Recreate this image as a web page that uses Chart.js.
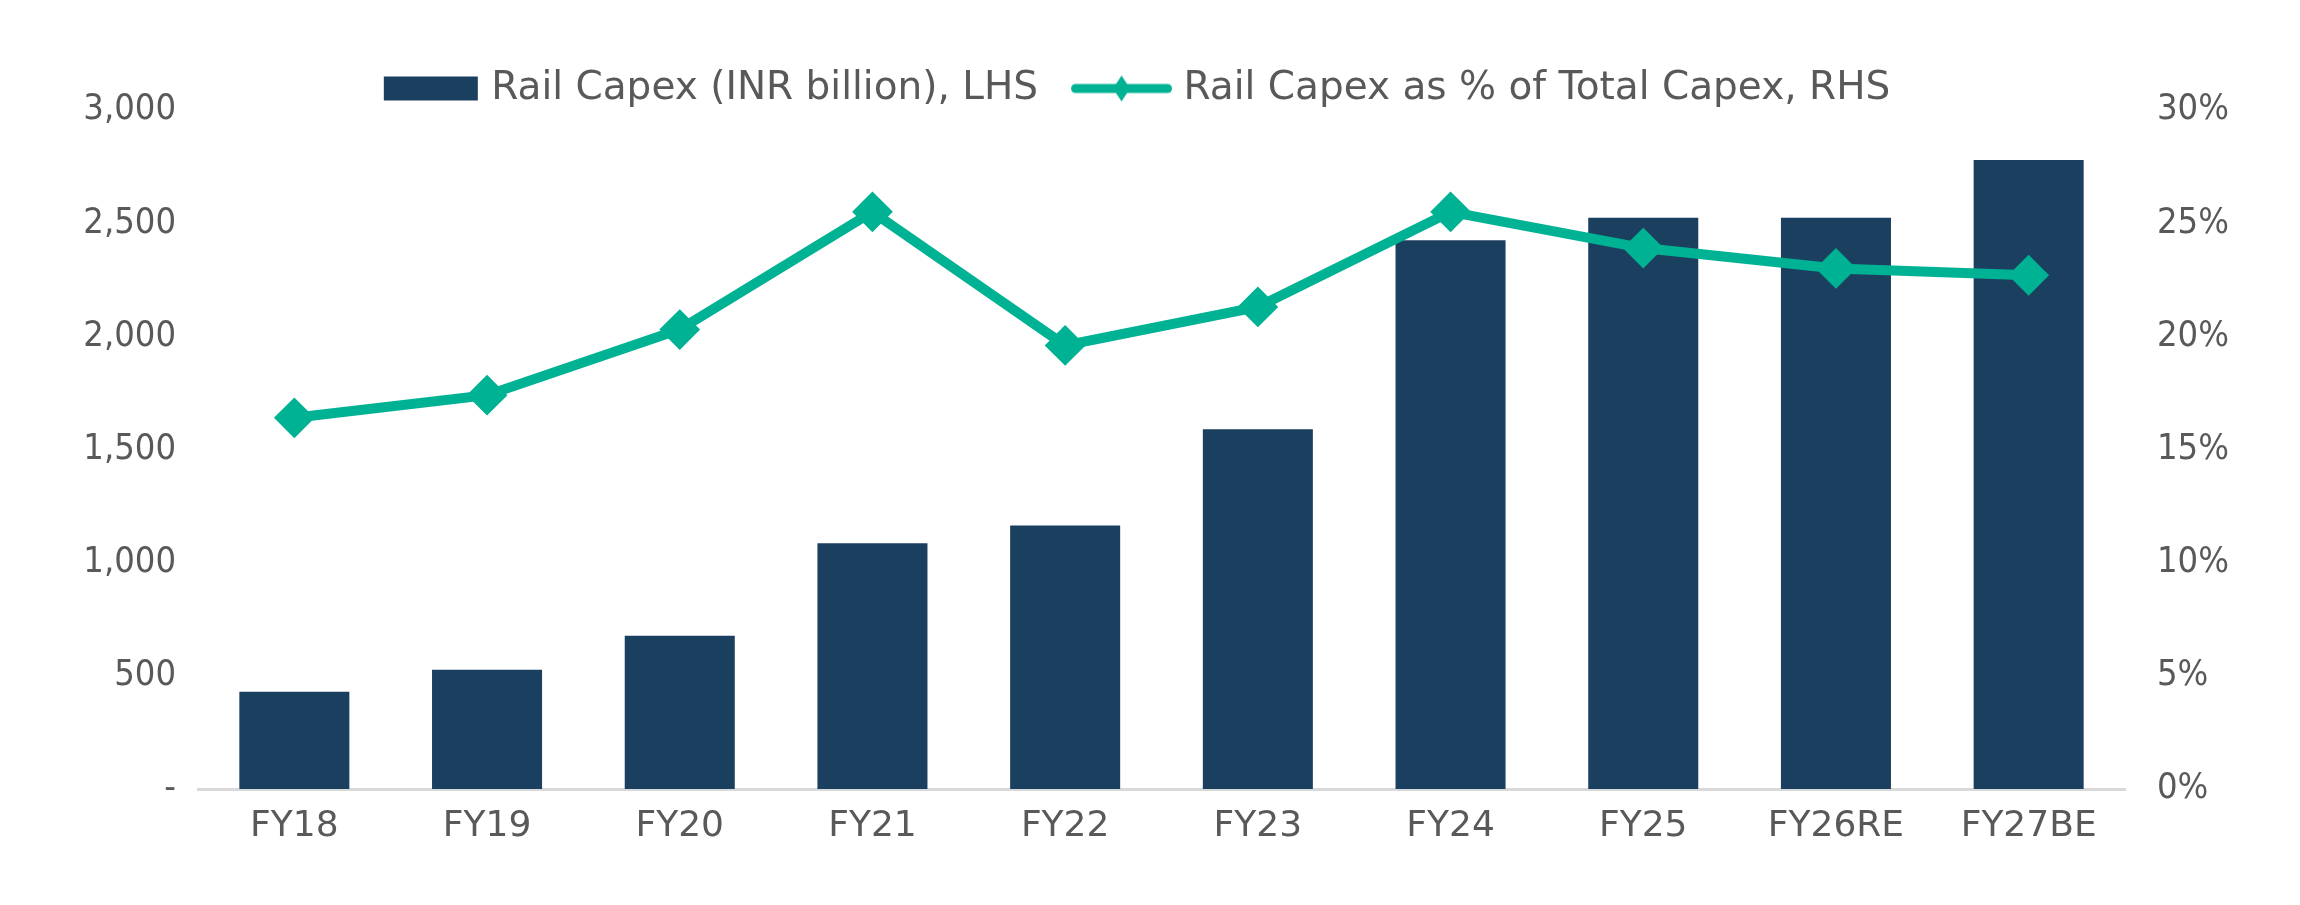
<!DOCTYPE html>
<html>
<head>
<meta charset="utf-8">
<script src="https://cdn.jsdelivr.net/npm/chart.js@4.4.1/dist/chart.umd.min.js"></script>
<style>
  html, body { margin: 0; padding: 0; background: #fff; }
</style>
</head>
<body>
<canvas id="railChart" width="2300" height="905"></canvas>
<script>
const years = ['FY18', 'FY19', 'FY20', 'FY21', 'FY22', 'FY23', 'FY24', 'FY25', 'FY26RE', 'FY27BE'];
const railCapex = [430, 527, 677, 1086, 1164, 1589, 2424, 2524, 2524, 2779]; // INR billion, LHS
const capexShare = [16.4, 17.4, 20.3, 25.5, 19.6, 21.3, 25.5, 23.9, 23.0, 22.7]; // %, RHS
const leftTickLabels = ['-', '500', '1,000', '1,500', '2,000', '2,500', '3,000'];
const rightTickLabels = ['0%', '5%', '10%', '15%', '20%', '25%', '30%'];

const navy = '#1b3f5f';
const teal = '#00b294';
const grey = '#595959';
const tickFont = "'DejaVu Sans Condensed', 'DejaVu Sans', sans-serif";
const textFont = "'DejaVu Sans', sans-serif";

// legend markers (drawn a little wider than the legend box so gaps match)
function legendMarker(kind) {
  const c = document.createElement('canvas');
  c.width = 140;
  c.height = 30;
  const g = c.getContext('2d');
  if (kind === 'bar') {
    g.fillStyle = navy;
    g.fillRect(44, 3, 94, 24);
  } else {
    g.strokeStyle = teal;
    g.lineWidth = 9;
    g.lineCap = 'round';
    g.beginPath();
    g.moveTo(43.5, 15);
    g.lineTo(135.5, 15);
    g.stroke();
    g.fillStyle = teal;
    g.beginPath();
    g.moveTo(89.5, 2);
    g.lineTo(98, 15);
    g.lineTo(89.5, 28);
    g.lineTo(81, 15);
    g.closePath();
    g.fill();
  }
  return c;
}
const markers = [legendMarker('bar'), legendMarker('line')];

const ctx = document.getElementById('railChart').getContext('2d');
const railChart = new Chart(ctx, {
  data: {
    labels: years,
    datasets: [{
      type: 'bar',
      label: 'Rail Capex (INR billion), LHS',
      data: railCapex,
      backgroundColor: navy,
      yAxisID: 'y',
      order: 1,
      categoryPercentage: 1,
      barPercentage: 0.571
    }, {
      type: 'line',
      label: 'Rail Capex as % of Total Capex, RHS',
      data: capexShare,
      borderColor: teal,
      backgroundColor: teal,
      borderWidth: 10,
      pointStyle: 'rectRot',
      pointRadius: 19,
      pointBorderWidth: 2,
      pointBackgroundColor: teal,
      pointBorderColor: teal,
      tension: 0,
      yAxisID: 'y1',
      order: 0
    }]
  },
  options: {
    responsive: false,
    devicePixelRatio: 1,
    animation: false,
    events: [],
    layout: {
      padding: { top: 67, right: 62, bottom: 0, left: 0 }
    },
    plugins: {
      tooltip: { enabled: false },
      legend: {
        position: 'top',
        maxHeight: 43,
        labels: {
          usePointStyle: true,
          pointStyleWidth: 124,
          padding: 2,
          color: grey,
          font: { family: textFont, size: 39 },
          sort: (a, b) => a.datasetIndex - b.datasetIndex,
          generateLabels: (chart) => {
            const items = Chart.defaults.plugins.legend.labels.generateLabels(chart);
            items.forEach(item => { item.pointStyle = markers[item.datasetIndex]; });
            return items;
          }
        }
      }
    },
    scales: {
      x: {
        grid: { display: false, drawTicks: false },
        border: { display: true, color: '#d9d9d9', width: 3 },
        ticks: {
          color: grey,
          padding: 16,
          maxRotation: 0,
          font: { family: textFont, size: 36 }
        },
        afterFit: (scale) => { scale.height = 116; }
      },
      y: {
        position: 'left',
        min: 0,
        max: 3000,
        grid: { display: false, drawTicks: false },
        border: { display: false },
        ticks: {
          stepSize: 500,
          padding: 22,
          color: grey,
          font: { family: tickFont, size: 36 },
          callback: (value, index) => leftTickLabels[index]
        },
        afterFit: (scale) => { scale.width = 198; }
      },
      y1: {
        position: 'right',
        min: 0,
        max: 30,
        grid: { display: false, drawTicks: false },
        border: { display: false },
        ticks: {
          stepSize: 5,
          padding: 32,
          color: grey,
          font: { family: tickFont, size: 36 },
          callback: (value, index) => rightTickLabels[index]
        },
        afterFit: (scale) => { scale.width = 113; }
      }
    }
  }
});
</script>
</body>
</html>
